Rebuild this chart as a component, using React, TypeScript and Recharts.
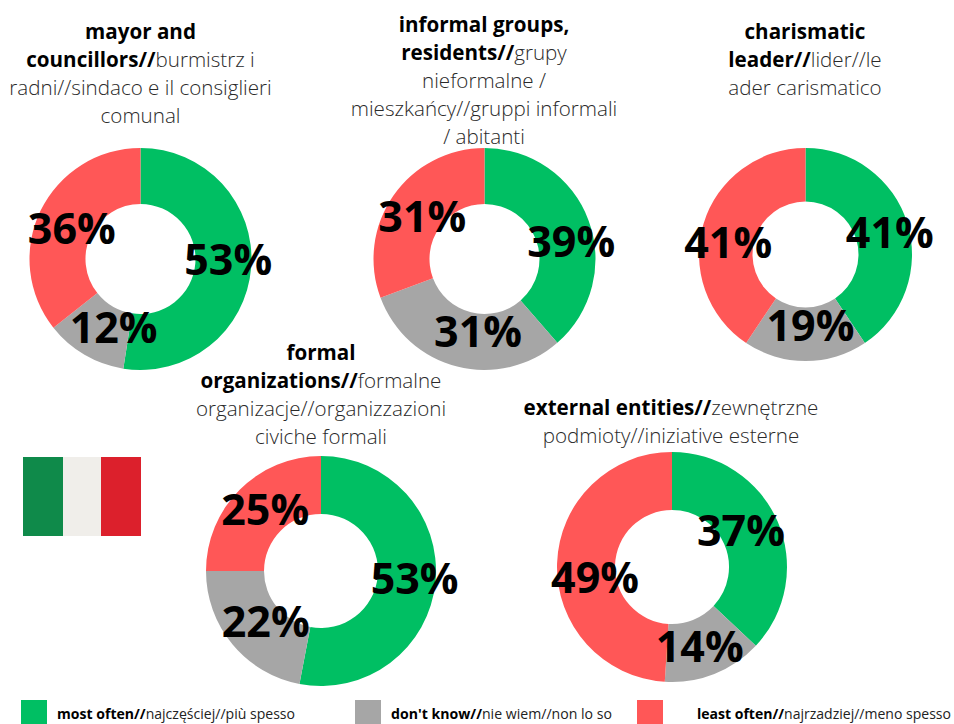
import React from "react";
import { PieChart, Pie, Cell } from "recharts";

const categories = ["most often", "don't know", "least often"];
const colors = ["#00BF63", "#A6A6A6", "#FF5757"];

const mayorValues = [53, 12, 36];
const informalValues = [39, 31, 31];
const leaderValues = [41, 19, 41];
const formalValues = [53, 22, 25];
const externalValues = [37, 14, 49];

const toRows = (values: number[]) => values.map((value, i) => ({ name: categories[i], value }));

type Seg = [string, boolean];
const FONT = "'Open Sans', sans-serif";

const donuts = [
  { values: mayorValues, cx: 140.5, cy: 259, R: 111, r: 55, nudges: [[5, -7], [15, -4], [6, 5]] },
  { values: informalValues, cx: 484.5, cy: 259, R: 111, r: 55, nudges: [[9, 11], [14, -9], [6, 4]] },
  { values: leaderValues, cx: 805.5, cy: 254.5, R: 106.5, r: 53, nudges: [[8, 0], [5, -10], [-1, 10]] },
  { values: formalValues, cx: 321, cy: 571, R: 115, r: 57, nudges: [[8, -2], [11, -5], [5, -2]] },
  { values: externalValues, cx: 672, cy: 567, R: 115, r: 57, nudges: [[-10, -3], [-4, -1], [9, 12]] },
];

const titles: { x: number; y: number; lines: Seg[][] }[] = [
  { x: 140.5, y: 18, lines: [[["mayor and", true]], [["councillors//", true], ["burmistrz i", false]], [["radni//sindaco e il consiglieri", false]], [["comunal", false]]] },
  { x: 484, y: 11, lines: [[["informal groups,", true]], [["residents//", true], ["grupy", false]], [["nieformalne /", false]], [["mieszkańcy//gruppi informali", false]], [["/ abitanti", false]]] },
  { x: 805, y: 18, lines: [[["charismatic", true]], [["leader//", true], ["lider//le", false]], [["ader carismatico", false]]] },
  { x: 321, y: 339, lines: [[["formal", true]], [["organizations//", true], ["formalne", false]], [["organizacje//organizzazioni", false]], [["civiche formali", false]]] },
  { x: 671, y: 394, lines: [[["external entities//", true], ["zewnętrzne", false]], [["podmioty//iniziative esterne", false]]] },
];

const legendItems: { box: number; text: number; w: number; bold: string; rest: string; color: string }[] = [
  { box: 21, text: 57, w: 238, bold: "most often//", rest: "najczęściej//più spesso", color: colors[0] },
  { box: 355, text: 391, w: 221, bold: "don't know//", rest: "nie wiem//non lo so", color: colors[1] },
  { box: 637, text: 697, w: 254, bold: "least often//", rest: "najrzadziej//meno spesso", color: colors[2] },
];

const flagStripes = [
  { left: 23, width: 39.5, color: "#0F8A4A" },
  { left: 62.5, width: 38.5, color: "#F0EEEA" },
  { left: 101, width: 40, color: "#DC202C" },
];

const makeLabel = (nudges: number[][]) => (p: any) => {
  const rad = (p.midAngle * Math.PI) / 180;
  const mid = (p.innerRadius + p.outerRadius) / 2;
  const n = nudges[p.index] || [0, 0];
  return (
    <text
      x={p.cx + mid * Math.cos(rad) + n[0]}
      y={p.cy - mid * Math.sin(rad) + n[1]}
      textAnchor="middle"
      dominantBaseline="central"
      fontFamily={FONT}
      fontWeight={700}
      fontSize={43}
      fill="#000"
    >
      {p.value}%
    </text>
  );
};

export default function App() {
  return (
    <div style={{ position: "absolute", left: 0, top: 0, width: 954, height: 724, background: "#fff", overflow: "hidden", fontFamily: FONT }}>
      <div style={{ position: "absolute", left: 0, top: 0 }}>
        <PieChart width={954} height={724} margin={{ top: 0, right: 0, bottom: 0, left: 0 }}>
          {donuts.map((d, k) => (
            <Pie
              key={k}
              data={toRows(d.values)}
              dataKey="value"
              nameKey="name"
              cx={d.cx}
              cy={d.cy}
              outerRadius={d.R}
              innerRadius={d.r}
              startAngle={90}
              endAngle={-270}
              stroke="none"
              isAnimationActive={false}
              labelLine={false}
              label={makeLabel(d.nudges)}
            >
              {d.values.map((_, i) => (
                <Cell key={i} fill={colors[i]} />
              ))}
            </Pie>
          ))}
        </PieChart>
      </div>
      {titles.map((t, k) => (
        <div key={k} style={{ position: "absolute", left: t.x - 200, top: t.y, width: 400, textAlign: "center", fontSize: 20.6, lineHeight: "27.9px", color: "#2a2a2a" }}>
          {t.lines.map((line, j) => (
            <div key={j} style={{ whiteSpace: "nowrap" }}>
              {line.map(([s, b], m) => (
                <span key={m} style={{ fontWeight: b ? 700 : 300, color: b ? "#000" : "#2a2a2a" }}>{s}</span>
              ))}
            </div>
          ))}
        </div>
      ))}
      {flagStripes.map((s, k) => (
        <div key={k} style={{ position: "absolute", left: s.left, top: 457, width: s.width, height: 79, background: s.color }} />
      ))}
      {legendItems.map((l, k) => (
        <React.Fragment key={k}>
          <div style={{ position: "absolute", left: l.box, top: 700, width: 26, height: 24, background: l.color }} />
          <svg style={{ position: "absolute", left: l.text, top: 704, overflow: "visible" }} width={l.w} height={20}>
            <text x={0} y={15} textLength={l.w} lengthAdjust="spacingAndGlyphs" fontSize={15} fontFamily={FONT} fill="#222">
              <tspan fontWeight={700} fill="#000">{l.bold}</tspan>
              <tspan fontWeight={400}>{l.rest}</tspan>
            </text>
          </svg>
        </React.Fragment>
      ))}
    </div>
  );
}
